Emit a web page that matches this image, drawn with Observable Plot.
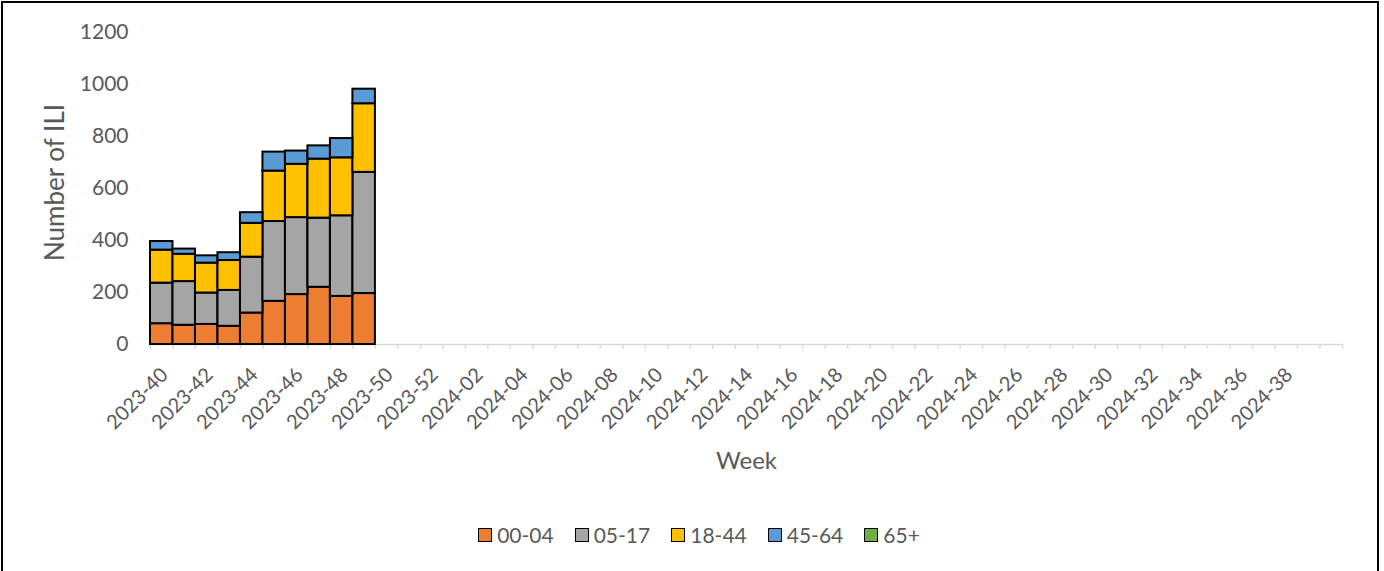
<!DOCTYPE html>
<html><head><meta charset="utf-8">
<script src="https://cdn.jsdelivr.net/npm/d3@7"></script>
<script src="https://cdn.jsdelivr.net/npm/@observablehq/plot@0.6"></script>
<style>
body{margin:0;background:#fff;}
#page{position:relative;width:1384px;height:571px;overflow:hidden;font-family:Lato,"Open Sans",sans-serif;}
#frame{position:absolute;left:1px;top:1px;width:1378px;height:580px;box-sizing:border-box;border:2px solid #000;}
#chart{position:absolute;left:0;top:0;}
#legend{position:absolute;top:522px;left:7px;width:1384px;height:26px;line-height:26px;display:flex;justify-content:center;align-items:center;color:#595959;font-size:21px;}
.item{display:flex;align-items:center;margin:0 10.5px;}
.sw{width:14px;height:14px;box-sizing:border-box;border:1.5px solid #000;margin-right:5px;}
</style></head>
<body>
<div id="page"><div id="frame"></div><div id="chart"></div><div id="legend"></div></div>
<script>
const weeks = ["2023-40","2023-41","2023-42","2023-43","2023-44","2023-45","2023-46","2023-47","2023-48","2023-49","2023-50","2023-51","2023-52",
"2024-01","2024-02","2024-03","2024-04","2024-05","2024-06","2024-07","2024-08","2024-09","2024-10","2024-11","2024-12","2024-13","2024-14","2024-15","2024-16","2024-17","2024-18","2024-19","2024-20",
"2024-21","2024-22","2024-23","2024-24","2024-25","2024-26","2024-27","2024-28","2024-29","2024-30","2024-31","2024-32","2024-33","2024-34","2024-35","2024-36","2024-37","2024-38","2024-39","2024-40"];
const tickLabels = ["2023-40","2023-42","2023-44","2023-46","2023-48","2023-50","2023-52","2024-02","2024-04","2024-06","2024-08","2024-10","2024-12","2024-14","2024-16","2024-18","2024-20","2024-22","2024-24","2024-26","2024-28","2024-30","2024-32","2024-34","2024-36","2024-38"];
const dataWeeks = ["2023-40","2023-41","2023-42","2023-43","2023-44","2023-45","2023-46","2023-47","2023-48","2023-49"];
const groups = ["00-04","05-17","18-44","45-64","65+"];
const colors = ["#ED7D31","#A5A5A5","#FFC000","#5B9BD5","#70AD47"];
const age00_04 = [80, 74, 77, 70, 121, 166, 192, 220, 185, 196];
const age05_17 = [156, 168, 121, 138, 215, 307, 296, 266, 310, 466];
const age18_44 = [127, 105, 115, 115, 130, 194, 205, 227, 223, 264];
const age45_64 = [33, 20, 28, 30, 41, 73, 51, 51, 74, 56];
const age65p = [0, 0, 0, 0, 0, 0, 0, 0, 0, 0];
const yTicks = [0, 200, 400, 600, 800, 1000, 1200];

const series = [age00_04, age05_17, age18_44, age45_64, age65p];
const rows = [];
groups.forEach((g, gi) => dataWeeks.forEach((w, i) => rows.push({week: w, group: g, value: series[gi][i]})));

const chart = Plot.plot({
  width: 1384, height: 500,
  marginLeft: 150, marginRight: 42, marginTop: 32, marginBottom: 156,
  style: {fontFamily: "Lato, 'Open Sans', sans-serif", fontSize: "20px", color: "#595959", background: "transparent", overflow: "visible"},
  x: {domain: weeks, padding: 0, round: false, label: null},
  y: {domain: [0, 1200], label: null},
  color: {domain: groups, range: colors},
  marks: [
    Plot.ruleY([0], {stroke: "#d9d9d9", strokeWidth: 1.5}),
    Plot.ruleX(weeks, {x: d => d, dx: -11.25, y1: 0, y2: -18, stroke: "#d9d9d9", strokeWidth: 1.5}),
    Plot.ruleX(weeks.slice(-1), {x: d => d, dx: 11.25, y1: 0, y2: -18, stroke: "#d9d9d9", strokeWidth: 1.5}),
    Plot.barY(rows, {x: "week", y: "value", fill: "group", stroke: "#000", strokeWidth: 2}),
    Plot.axisY({ticks: yTicks, tickFormat: d => String(d), tickSize: 0, tickPadding: 22, label: null, fill: "#595959", fontSize: 21}),
    Plot.axisX({ticks: tickLabels, tickSize: 0, tickRotate: -45, tickPadding: 27, dx: 3, label: null, fill: "#595959", fontSize: 20}),
    Plot.text(["Number of ILI"], {frameAnchor: "left", textAnchor: "middle", lineAnchor: "middle", dx: -95, dy: -6, rotate: -90, fill: "#595959", fontSize: 26}),
    Plot.text(["Week"], {frameAnchor: "bottom", lineAnchor: "middle", dy: 117, fill: "#595959", fontSize: 24})
  ]
});
document.getElementById("chart").appendChild(chart);

const legend = document.getElementById("legend");
groups.forEach((g, i) => {
  const it = document.createElement("div"); it.className = "item";
  const sw = document.createElement("div"); sw.className = "sw"; sw.style.background = colors[i];
  const t = document.createElement("span"); t.textContent = g;
  it.appendChild(sw); it.appendChild(t); legend.appendChild(it);
});
</script>
</body></html>
